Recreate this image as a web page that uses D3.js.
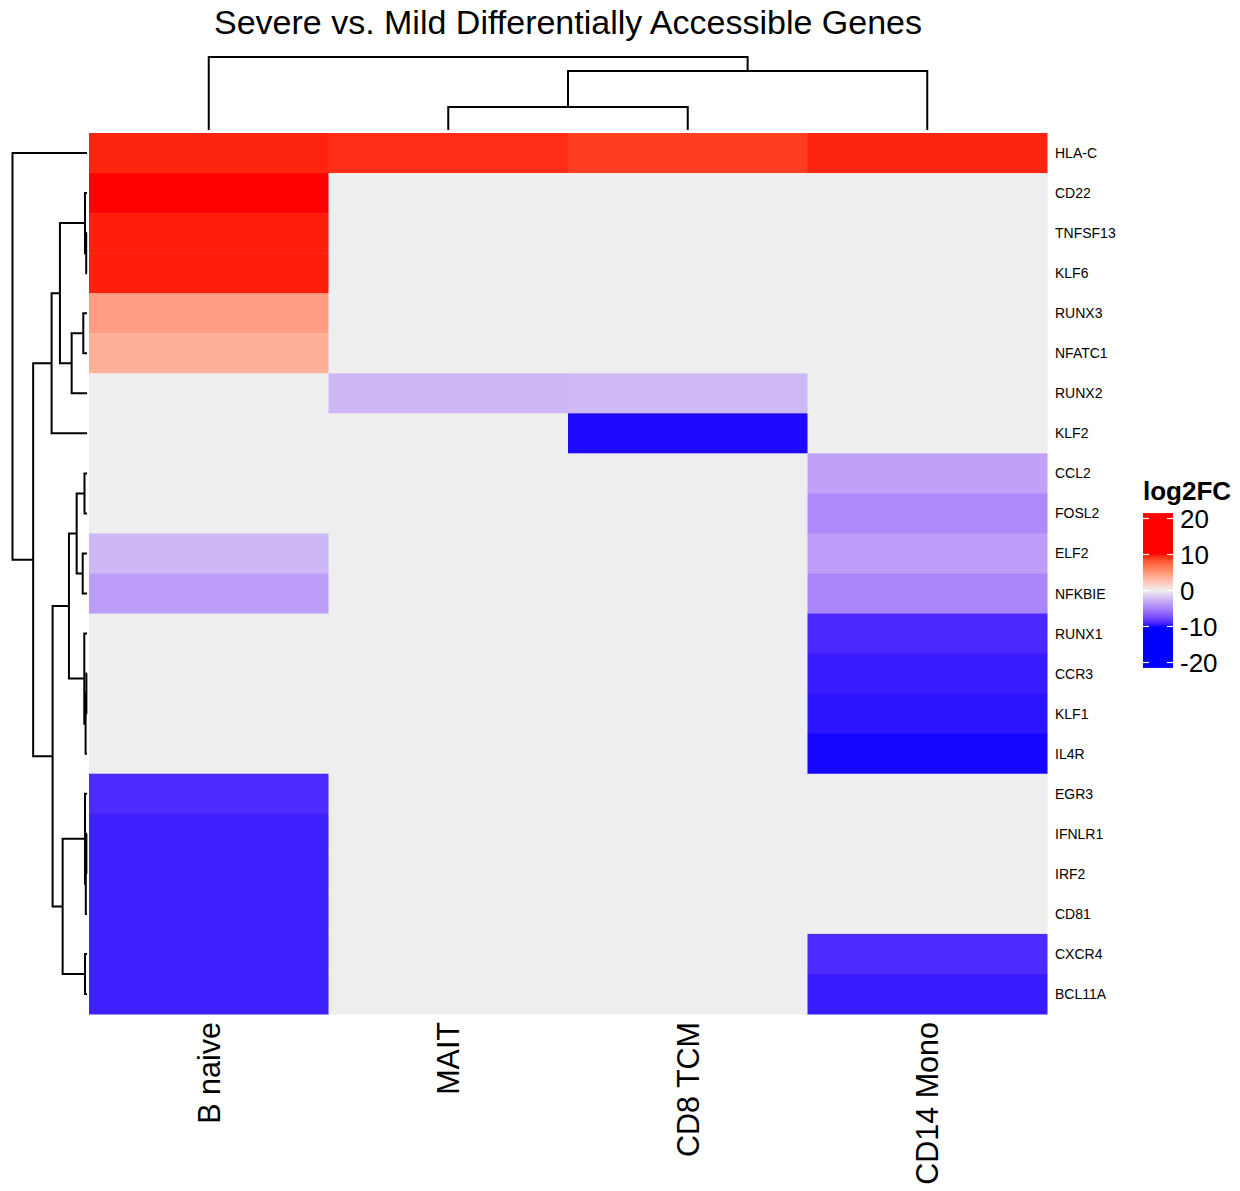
<!DOCTYPE html>
<html>
<head>
<meta charset="utf-8">
<script src="https://cdn.jsdelivr.net/npm/d3@7"></script>
<style>
  body { margin: 0; background: #fff; }
  text { font-family: "Liberation Sans", Arial, Helvetica, sans-serif; }
</style>
</head>
<body>
<div id="chart"></div>
<script>
// cell types (columns) and genes (rows), in plotted order
var columns = ["B naive", "MAIT", "CD8 TCM", "CD14 Mono"];
var rows = ["HLA-C", "CD22", "TNFSF13", "KLF6", "RUNX3", "NFATC1", "RUNX2", "KLF2",
    "CCL2", "FOSL2", "ELF2", "NFKBIE", "RUNX1", "CCR3", "KLF1", "IL4R",
    "EGR3", "IFNLR1", "IRF2", "CD81", "CXCR4", "BCL11A"];

// log2FC values, one array per column, row order as above
var bNaive = [9.6, 10, 9.7, 9.7, 4.6, 3.6, 0, 0, 0, 0, -2.5, -3.7, 0, 0, 0, 0, -8.9, -9.3, -9.3, -9.3, -9.3, -9.3];
var mait   = [9.4, 0, 0, 0, 0, 0, -2.5, 0, 0, 0, 0, 0, 0, 0, 0, 0, 0, 0, 0, 0, 0, 0];
var cd8tcm = [9.0, 0, 0, 0, 0, 0, -2.4, -9.8, 0, 0, 0, 0, 0, 0, 0, 0, 0, 0, 0, 0, 0, 0];
var cd14   = [9.6, 0, 0, 0, 0, 0, 0, 0, -3.5, -4.6, -3.7, -4.8, -9.0, -9.4, -9.6, -9.9, 0, 0, 0, 0, -8.9, -9.4];
var values = [bNaive, mait, cd8tcm, cd14];

// column dendrogram: hclust-style merges (names = leaves, numbers = earlier merge, 1-based)
var colMerges = [["MAIT", "CD8 TCM"], ["CD14 Mono", 1], ["B naive", 2]];
var colHeights = [23, 59, 73];

// row dendrogram
var rowMerges = [
    ["TNFSF13", "KLF6"], ["CD22", 1], ["RUNX3", "NFATC1"], [3, "RUNX2"], [2, 4], [5, "KLF2"],
    ["CCL2", "FOSL2"], ["ELF2", "NFKBIE"], [7, 8], ["CCR3", "KLF1"], [10, "IL4R"], ["RUNX1", 11],
    [9, 12], ["IFNLR1", "IRF2"], [14, "CD81"], ["EGR3", 15], ["CXCR4", "BCL11A"], [16, 17],
    [13, 18], [6, 19], ["HLA-C", 20]
];
var rowHeights = [0.8, 2, 3.7, 15.3, 27, 35.3, 2.5, 4.3, 10.3, 0.6, 1.4, 2.7,
    18, 0.6, 1.2, 2, 2, 24.3, 34.3, 53.7, 74.3];

var legendTicks = [20, 10, 0, -10, -20];

var width = 1240, height = 1191;
var hmLeft = 89, hmRight = 1047, hmTop = 133, hmBottom = 1014;

var svg = d3.select("#chart").append("svg")
    .attr("width", width)
    .attr("height", height);

var x = d3.scaleBand().domain(columns).range([hmLeft, hmRight]);
var y = d3.scaleBand().domain(rows).range([hmTop, hmBottom]);

var color = d3.scaleLinear()
    .domain([-10, 0, 10])
    .range(["#0000FF", "#EEEEEE", "#FF0000"])
    .interpolate(d3.interpolateLab)
    .clamp(true);

// heatmap cells
var cells = [];
columns.forEach(function (c, ci) {
    rows.forEach(function (r, ri) {
        cells.push({col: c, row: r, value: values[ci][ri]});
    });
});

svg.append("g").selectAll("rect")
    .data(cells)
    .enter()
    .append("rect")
    .attr("x", function (d) { return x(d.col); })
    .attr("y", function (d) { return y(d.row); })
    .attr("width", x.bandwidth() + 0.5)
    .attr("height", y.bandwidth() + 0.5)
    .attr("fill", function (d) { return color(d.value); });

// dendrogram layout: each node gets a position (mean of children) and a height
function layoutTree(merges, heights, leafPos) {
    var nodes = [];
    merges.forEach(function (m, i) {
        var kids = m.map(function (k) {
            if (typeof k === "string") return {pos: leafPos(k), h: 0};
            return nodes[k - 1];
        });
        nodes.push({kids: kids, pos: (kids[0].pos + kids[1].pos) / 2, h: heights[i]});
    });
    return nodes;
}

// top dendrogram
var colH = d3.scaleLinear().domain([0, 73]).range([130, 57]);
var colNodes = layoutTree(colMerges, colHeights, function (k) { return x(k) + x.bandwidth() / 2; });
var gTop = svg.append("g")
    .attr("stroke", "#000")
    .attr("stroke-width", 2)
    .attr("fill", "none");
colNodes.forEach(function (n) {
    var a = n.kids[0], b = n.kids[1];
    gTop.append("path").attr("d",
        "M" + a.pos + "," + colH(a.h) + "V" + colH(n.h) + "H" + b.pos + "V" + colH(b.h));
});

// left dendrogram
var rowH = d3.scaleLinear().domain([0, 74.3]).range([87, 12.5]);
var rowNodes = layoutTree(rowMerges, rowHeights, function (k) { return y(k) + y.bandwidth() / 2; });
var gLeft = svg.append("g")
    .attr("stroke", "#000")
    .attr("stroke-width", 2)
    .attr("fill", "none");
rowNodes.forEach(function (n) {
    var a = n.kids[0], b = n.kids[1];
    gLeft.append("path").attr("d",
        "M" + rowH(a.h) + "," + a.pos + "H" + rowH(n.h) + "V" + b.pos + "H" + rowH(b.h));
});

// row labels
svg.append("g").selectAll("text")
    .data(rows)
    .enter()
    .append("text")
    .attr("x", hmRight + 8)
    .attr("y", function (d) { return y(d) + y.bandwidth() / 2; })
    .attr("dominant-baseline", "central")
    .attr("font-size", 14)
    .text(function (d) { return d; });

// column labels
svg.append("g").selectAll("text")
    .data(columns)
    .enter()
    .append("text")
    .attr("transform", function (d) {
        return "translate(" + (x(d) + x.bandwidth() / 2) + "," + (hmBottom + 8) + ") rotate(-90)";
    })
    .attr("text-anchor", "end")
    .attr("dominant-baseline", "central")
    .attr("font-size", 30.5)
    .text(function (d) { return d; });

// title
svg.append("text")
    .attr("x", (hmLeft + hmRight) / 2)
    .attr("y", 34)
    .attr("text-anchor", "middle")
    .attr("font-size", 34)
    .text("Severe vs. Mild Differentially Accessible Genes");

// legend
var lg = svg.append("g");
var ly = d3.scaleLinear().domain([20, -20]).range([518.5, 662.5]);
var legX = 1143, legW = 30;
var barTop = 21.5, barBottom = -21.5;
lg.append("text")
    .attr("x", legX)
    .attr("y", 500)
    .attr("font-size", 26)
    .attr("font-weight", "bold")
    .text("log2FC");

var grad = svg.append("defs").append("linearGradient")
    .attr("id", "legGrad")
    .attr("x1", 0).attr("x2", 0).attr("y1", 0).attr("y2", 1);
grad.selectAll("stop")
    .data(d3.range(0, 1.0001, 0.02))
    .enter()
    .append("stop")
    .attr("offset", function (t) { return t; })
    .attr("stop-color", function (t) { return color(barTop + (barBottom - barTop) * t); });

lg.append("rect")
    .attr("x", legX)
    .attr("y", ly(barTop))
    .attr("width", legW)
    .attr("height", ly(barBottom) - ly(barTop))
    .attr("fill", "url(#legGrad)");

lg.selectAll("line.tl")
    .data(legendTicks)
    .enter()
    .append("line")
    .attr("x1", legX).attr("x2", legX + 6)
    .attr("y1", function (d) { return ly(d); })
    .attr("y2", function (d) { return ly(d); })
    .attr("stroke", "#fff")
    .attr("stroke-width", 1.2);
lg.selectAll("line.tr")
    .data(legendTicks)
    .enter()
    .append("line")
    .attr("x1", legX + legW - 6).attr("x2", legX + legW)
    .attr("y1", function (d) { return ly(d); })
    .attr("y2", function (d) { return ly(d); })
    .attr("stroke", "#fff")
    .attr("stroke-width", 1.2);

lg.selectAll("text.lab")
    .data(legendTicks)
    .enter()
    .append("text")
    .attr("x", legX + legW + 7)
    .attr("y", function (d) { return ly(d); })
    .attr("dominant-baseline", "central")
    .attr("font-size", 26)
    .text(function (d) { return d; });
</script>
</body>
</html>
